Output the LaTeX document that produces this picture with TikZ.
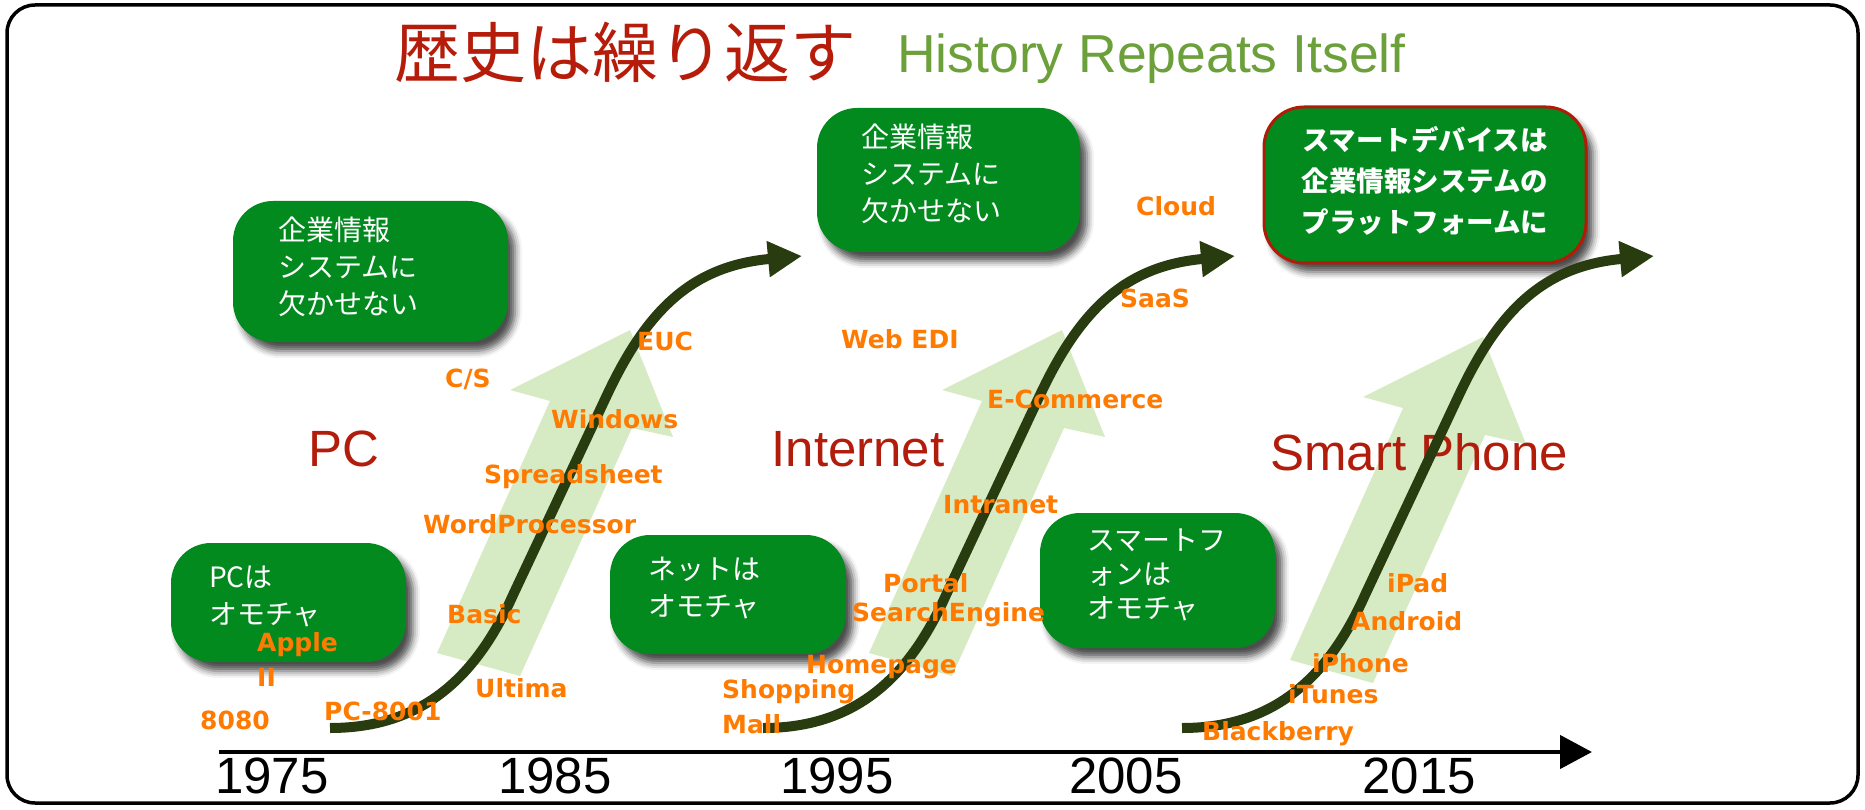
\documentclass[tikz,border=0pt]{standalone}
\usepackage{fontspec}
\setmainfont{Liberation Sans}
\newfontfamily\cjk{Noto Sans CJK JP}
\newfontfamily\dejavu{DejaVu Sans}
\usetikzlibrary{arrows.meta,shadows.blur,calc}
\definecolor{titlered}{RGB}{182,28,10}
\definecolor{erared}{RGB}{178,28,10}
\definecolor{histgreen}{RGB}{108,160,58}
\definecolor{boxgreen}{RGB}{2,138,30}
\definecolor{boxred}{RGB}{176,28,8}
\definecolor{labor}{RGB}{255,122,0}
\definecolor{curvegreen}{RGB}{40,60,16}
\definecolor{arrowgreen}{RGB}{214,235,196}
\begin{document}
\begin{tikzpicture}[x=1pt,y=-1pt,
  gbox/.style={draw=none, fill=boxgreen, rounded corners=40pt, inner sep=0pt,
    blur shadow={shadow xshift=7pt,shadow yshift=-9pt,shadow blur radius=7pt,shadow opacity=70}},
  rbox/.style={gbox, draw=boxred, line width=3pt},
  btext/.style={text=white, inner sep=0pt, align=left, font=\cjk\fontsize{28}{37}\selectfont},
  lab/.style={text=labor, inner sep=0pt, font=\dejavu\bfseries\fontsize{25}{35}\selectfont},
  era/.style={text=erared, inner sep=0pt, font=\fontsize{51}{60}\selectfont},
  year/.style={text=black, inner sep=0pt, font=\fontsize{51}{60}\selectfont},
  scurve/.style={draw=curvegreen, line width=10pt, -{Triangle[length=34pt,width=34pt]}},
  lightarrow/.style={fill=arrowgreen},
  axisline/.style={draw=black, line width=4.5pt, -{Triangle[length=32pt,width=33pt]}},
]
\useasboundingbox (0,0) rectangle (1865,810);
% frame
\draw[line width=3.5pt, rounded corners=28pt] (7,5) rectangle (1858,803);

% title
\node[inner sep=0pt, text=titlered, font=\cjk\fontsize{66}{70}\selectfont] (title) at (625,52) {歴史は繰り返す};
\node[inner sep=0pt, text=histgreen, font=\fontsize{53.5}{60}\selectfont, anchor=base west] (subtitle) at (897,73) {History Repeats Itself};

% light block arrows
\foreach \dx/\dy in {0/0, 432/0, 853/7}{
  \begin{scope}[shift={(\dx,\dy)}]
    \fill[lightarrow] (437,653) -- (550,401) -- (510,390) -- (630,330) -- (673,437) -- (632,428) -- (520,676) -- cycle;
  \end{scope}
}

% green boxes
\node[gbox, minimum width=275pt, minimum height=141pt] (bA) at (370.5,271.5) {};
\node[gbox, minimum width=263pt, minimum height=144pt] (bB) at (948.5,180) {};
\node[rbox, minimum width=322pt, minimum height=156pt] (bC) at (1425,185) {};
\node[gbox, minimum width=235pt, minimum height=119pt] (bD) at (288.5,602.5) {};
\node[gbox, minimum width=236pt, minimum height=119pt] (bE) at (728,594.5) {};
\node[gbox, minimum width=235pt, minimum height=135pt] (bF) at (1157.5,580.5) {};

\node[btext, anchor=west] (tA) at ([xshift=45pt,yshift=5pt]bA.west) {企業情報\\システムに\\欠かせない};
\node[btext, anchor=west] (tB) at ([xshift=44pt,yshift=6pt]bB.west) {企業情報\\システムに\\欠かせない};
\node[btext, align=center, font=\cjk\bfseries\fontsize{27.5}{41}\selectfont] (tC) at ([yshift=4pt]bC.center) {スマートデバイスは\\企業情報システムの\\プラットフォームに};
\node[btext, anchor=west] (tD) at ([xshift=38pt,yshift=6pt]bD.west) {PCは\\オモチャ};
\node[btext, anchor=west] (tE) at ([xshift=38pt,yshift=6pt]bE.west) {ネットは\\オモチャ};
\node[btext, anchor=west, font=\cjk\fontsize{28}{34}\selectfont] (tF) at ([xshift=47pt,yshift=6pt]bF.west) {スマートフ\\ォンは\\オモチャ};

% era labels
\node[era, anchor=base] (ePC) at (344,466) {PC};
\node[era, anchor=base] (eNet) at (858,466) {Internet};
\node[era, anchor=base] (eSP) at (1419,470) {Smart Phone};

% S curves
\foreach \dx/\i in {0/1, 433/2, 852/3}{
  \coordinate (s\i) at (330+\dx,728);
  \coordinate (e\i) at (802+\dx,256);
  \draw[scurve] (s\i) .. controls +(90,0) and +(-38,85) .. ++(183,-133)
     -- ++(94,-200) .. controls +(40,-85) and +(-110,10) .. (e\i);
}

% time axis
\coordinate (ax0) at (219,752);
\coordinate (ax1) at (1592,752);
\draw[axisline] (ax0) -- (ax1);
\node[year, anchor=base] (y1975) at (272,793) {1975};
\node[year, anchor=base] (y1985) at (555,793) {1985};
\node[year, anchor=base] (y1995) at (837,793) {1995};
\node[year, anchor=base] (y2005) at (1126,793) {2005};
\node[year, anchor=base] (y2015) at (1419,793) {2015};

% orange labels
\node[lab, anchor=base west] (lEUC) at (637,350) {EUC};
\node[lab, anchor=base west] (lCS) at (445,387) {C/S};
\node[lab, anchor=base west] (lWin) at (551,428) {Windows};
\node[lab, anchor=base west] (lSpr) at (484,483) {Spreadsheet};
\node[lab, anchor=base west] (lWP) at (423,533) {WordProcessor};
\node[lab, anchor=base west] (lBas) at (447,623) {Basic};
\node[lab, anchor=base west] (lUlt) at (475,697) {Ultima};
\node[lab, anchor=base west] (lPC) at (324,720) {PC-8001};
\node[lab, anchor=north west, align=left] (lApp) at (257,632) {Apple\\II};
\node[lab, anchor=base west] (l8080) at (200,729) {8080};
\node[lab, anchor=base west] (lWeb) at (841,348) {Web EDI};
\node[lab, anchor=base west] (lSaaS) at (1120,307) {SaaS};
\node[lab, anchor=base west] (lEC) at (987,408) {E-Commerce};
\node[lab, anchor=base west] (lIntra) at (943,513) {Intranet};
\node[lab, anchor=base west] (lPort) at (883,592) {Portal};
\node[lab, anchor=base west] (lSE) at (852,621) {SearchEngine};
\node[lab, anchor=base west] (lHome) at (806,673) {Homepage};
\node[lab, anchor=north west, align=left] (lShop) at (722,679) {Shopping\\Mall};
\node[lab, anchor=base west] (lCloud) at (1136,216) {Cloud};
\node[lab, anchor=base west] (liPad) at (1387,592) {iPad};
\node[lab, anchor=base west] (lAnd) at (1351,630) {Android};
\node[lab, anchor=base west] (liPh) at (1312,672) {iPhone};
\node[lab, anchor=base west] (liT) at (1288,703) {iTunes};
\node[lab, anchor=base west] (lBB) at (1202,740) {Blackberry};
\end{tikzpicture}
\end{document}
